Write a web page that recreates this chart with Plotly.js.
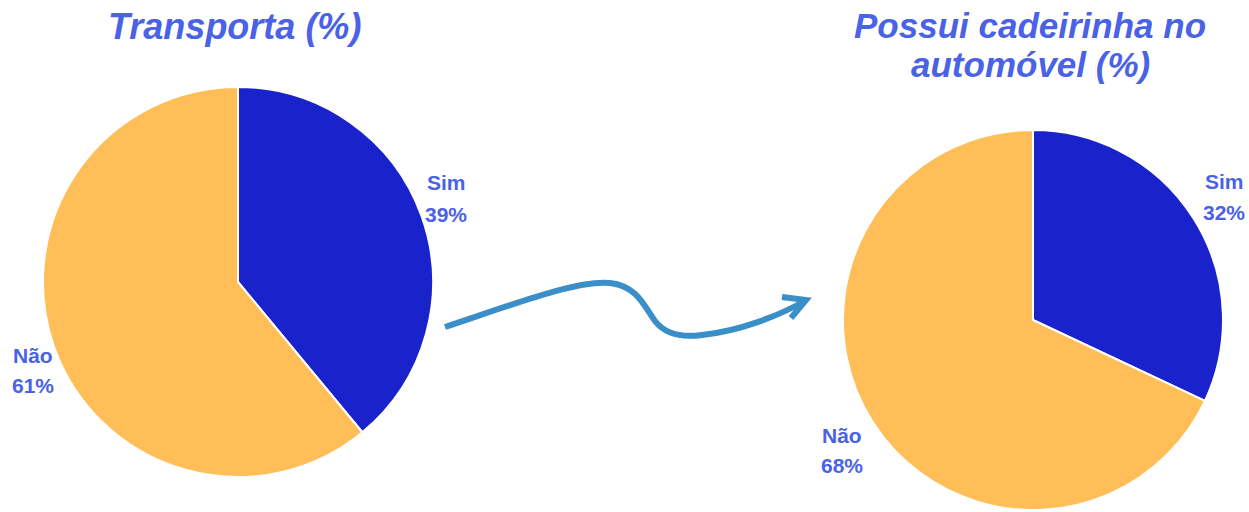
<!DOCTYPE html>
<html>
<head>
<meta charset="utf-8">
<script src="https://cdn.plot.ly/plotly-3.0.1.min.js"></script>
<style>
  html, body { margin: 0; padding: 0; background: #ffffff; }
  #chart { width: 1249px; height: 512px; }
</style>
</head>
<body>
<div id="chart"></div>
<script>
// ---- data ----
const categories = ["Sim", "Não"];
const transportaValues = [39, 61];
const cadeirinhaValues = [32, 68];
const titleTransporta = ["Transporta (%)"];
const titleCadeirinha = ["Possui cadeirinha no", "automóvel (%)"];

// ---- styles ----
const W = 1249, H = 512;
const sliceColors = ["#1a22cc", "#ffbe57"];
const textColor = "#4a62e6";
const fontFamily = "Liberation Sans, Arial, sans-serif";

function px(x) { return x / W; }
function py(y) { return 1 - y / H; }
function pt(x, y) { return px(x) + "," + py(y); }

function pieTrace(values, cx, cy, r) {
  return {
    type: "pie",
    labels: categories,
    values: values,
    sort: false,
    direction: "clockwise",
    rotation: 0,
    textinfo: "none",
    hoverinfo: "label+percent",
    marker: { colors: sliceColors, line: { color: "#ffffff", width: 2 } },
    domain: { x: [px(cx - r), px(cx + r)], y: [py(cy + r), py(cy - r)] },
    showlegend: false
  };
}

const data = [
  pieTrace(transportaValues, 238, 282, 195),
  pieTrace(cadeirinhaValues, 1033, 320, 190)
];

function note(text, x, y, size) {
  return { text: text, x: px(x), y: py(y), xref: "paper", yref: "paper",
    xanchor: "center", yanchor: "middle", showarrow: false,
    font: { family: fontFamily, size: size, color: textColor } };
}

// labels built from the data
function labelPair(cat, val, x, yTop, yBottom) {
  return [
    note("<b>" + cat + "</b>", x, yTop, 21),
    note("<b>" + val + "%</b>", x, yBottom, 21)
  ];
}

const annotations = [].concat(
  labelPair(categories[0], transportaValues[0], 446, 182, 214),
  labelPair(categories[1], transportaValues[1], 33, 355, 385),
  labelPair(categories[0], cadeirinhaValues[0], 1224, 181, 212),
  labelPair(categories[1], cadeirinhaValues[1], 842, 435, 465),
  [
    note("<b><i>" + titleTransporta[0] + "</i></b>", 234, 26, 36),
    note("<b><i>" + titleCadeirinha[0] + "</i></b>", 1030, 25, 35),
    note("<b><i>" + titleCadeirinha[1] + "</i></b>", 1030, 64, 35)
  ]
);

const arrowColor = "#3a8fc8";
const shapes = [
  { type: "path", xref: "paper", yref: "paper",
    path: "M" + pt(445, 327) +
          " C" + pt(520, 302) + " " + pt(578, 280) + " " + pt(610, 283) +
          " C" + pt(638, 286) + " " + pt(645, 308) + " " + pt(655, 321) +
          " C" + pt(665, 334) + " " + pt(680, 338) + " " + pt(702, 335) +
          " C" + pt(740, 331) + " " + pt(778, 316) + " " + pt(805, 301),
    line: { color: arrowColor, width: 6 }, fillcolor: "rgba(0,0,0,0)" },
  { type: "path", xref: "paper", yref: "paper",
    path: "M" + pt(782, 297) + " L" + pt(806, 300) + " L" + pt(791, 318),
    line: { color: arrowColor, width: 6 }, fillcolor: "rgba(0,0,0,0)" }
];

const layout = {
  width: W, height: H,
  margin: { l: 0, r: 0, t: 0, b: 0 },
  paper_bgcolor: "#ffffff",
  plot_bgcolor: "#ffffff",
  showlegend: false,
  annotations: annotations,
  shapes: shapes
};

Plotly.newPlot("chart", data, layout, { displayModeBar: false, staticPlot: true });
</script>
</body>
</html>
